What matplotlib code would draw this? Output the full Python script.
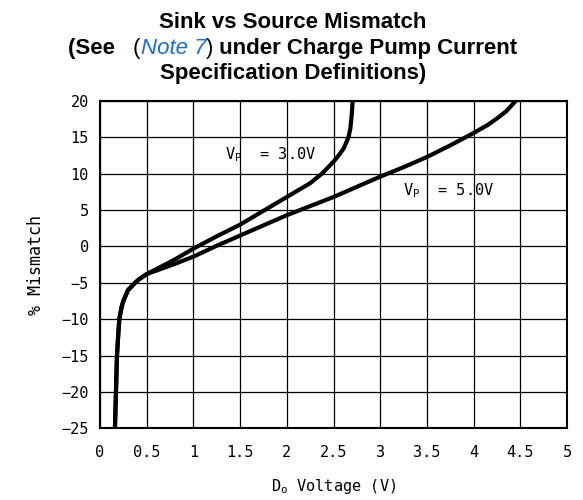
import numpy as np
import matplotlib
matplotlib.use("Agg")
import matplotlib.pyplot as plt

plt.rcParams["mathtext.fontset"] = "custom"
plt.rcParams["mathtext.rm"] = "DejaVu Sans Mono"
plt.rcParams["mathtext.it"] = "DejaVu Sans Mono"

# ----- data -----
vp3_x = [0.16, 0.171, 0.182, 0.196, 0.207, 0.232, 0.25, 0.30, 0.375, 0.42, 0.5,
         0.65, 0.8, 1.0, 1.25, 1.5, 1.75, 2.0, 2.25, 2.375, 2.5, 2.56, 2.61,
         2.66, 2.68, 2.695, 2.705]
vp3_y = [-25, -20, -15, -12, -10, -8.3, -7.5, -6.0, -5.0, -4.5, -3.8,
         -2.8, -1.8, -0.3, 1.4, 3.0, 4.9, 6.8, 8.7, 10.0, 11.65, 12.6, 13.5,
         15.0, 16.2, 18.1, 20.0]

vp5_x = [0.16, 0.171, 0.182, 0.196, 0.207, 0.232, 0.25, 0.30, 0.375, 0.42, 0.5,
         0.65, 0.8, 1.0, 1.25, 1.5, 1.75, 2.0, 2.5, 3.0, 3.25, 3.5, 3.75,
         4.0, 4.15, 4.25, 4.35, 4.45]
vp5_y = [-25, -20, -15, -12, -10, -8.3, -7.5, -6.0, -5.0, -4.5, -3.8,
         -3.1, -2.4, -1.4, 0.1, 1.5, 2.9, 4.3, 6.8, 9.6, 10.9, 12.3, 13.9,
         15.6, 16.7, 17.6, 18.6, 20.0]

x_ticks = [0, 0.5, 1, 1.5, 2, 2.5, 3, 3.5, 4, 4.5, 5]
x_tick_labels = ["0", "0.5", "1", "1.5", "2", "2.5", "3", "3.5", "4", "4.5", "5"]
y_ticks = [-25, -20, -15, -10, -5, 0, 5, 10, 15, 20]

mono = "DejaVu Sans Mono"

fig = plt.figure(figsize=(5.83, 5.0), dpi=100)
ax = fig.add_axes([0.1715, 0.1434, 0.8011, 0.6546])

ax.plot(vp3_x, vp3_y, color="black", lw=3.0, solid_joinstyle="round", zorder=3)
ax.plot(vp5_x, vp5_y, color="black", lw=3.0, solid_joinstyle="round", zorder=3)

ax.set_xlim(0, 5)
ax.set_ylim(-25, 20)
ax.set_xticks(x_ticks)
ax.set_xticklabels(x_tick_labels)
ax.set_yticks(y_ticks)
ax.grid(True, color="black", lw=0.9)
ax.tick_params(length=0, labelsize=11)
ax.tick_params(axis="x", pad=12)
ax.tick_params(axis="y", pad=8)
for lab in ax.get_xticklabels() + ax.get_yticklabels():
    lab.set_family(mono)
for sp in ax.spines.values():
    sp.set_linewidth(1.5)

ax.set_xlabel(r"D$_\mathrm{o}$ Voltage (V)", family=mono, fontsize=11, labelpad=12)
ax.set_ylabel("% Mismatch", family=mono, fontsize=12, labelpad=12)

# curve labels
ax.text(1.34, 12.6, r"V$_\mathrm{P}$  = 3.0V", family=mono, fontsize=11,
        ha="left", va="center")
ax.text(3.24, 7.7, r"V$_\mathrm{P}$  = 5.0V", family=mono, fontsize=11,
        ha="left", va="center")

# ----- title (three lines, middle one with a blue note link) -----
cx = 0.502
tkw = dict(family="Liberation Sans", fontsize=16, weight="bold", ha="center", va="center")
fig.text(cx, 0.954, "Sink vs Source Mismatch", **tkw)
fig.text(cx, 0.852, "Specification Definitions)", **tkw)

pieces = [("(See   ", "black", "bold", "normal"),
          ("(", "black", "normal", "normal"),
          ("Note 7", "#1a6fd0", "normal", "italic"),
          (")", "black", "normal", "normal"),
          (" under Charge Pump Current", "black", "bold", "normal")]
fig.canvas.draw()
renderer = fig.canvas.get_renderer()
texts = []
for s, c, w, st in pieces:
    t = fig.text(0, 0.903, s, family="Liberation Sans", fontsize=16, weight=w,
                 style=st, color=c, ha="left", va="center")
    texts.append(t)
widths = [t.get_window_extent(renderer).width for t in texts]
total = sum(widths)
x0 = cx * fig.bbox.width - total / 2
for t, w in zip(texts, widths):
    t.set_x(x0 / fig.bbox.width)
    x0 += w

fig.savefig("out.png", dpi=100)
